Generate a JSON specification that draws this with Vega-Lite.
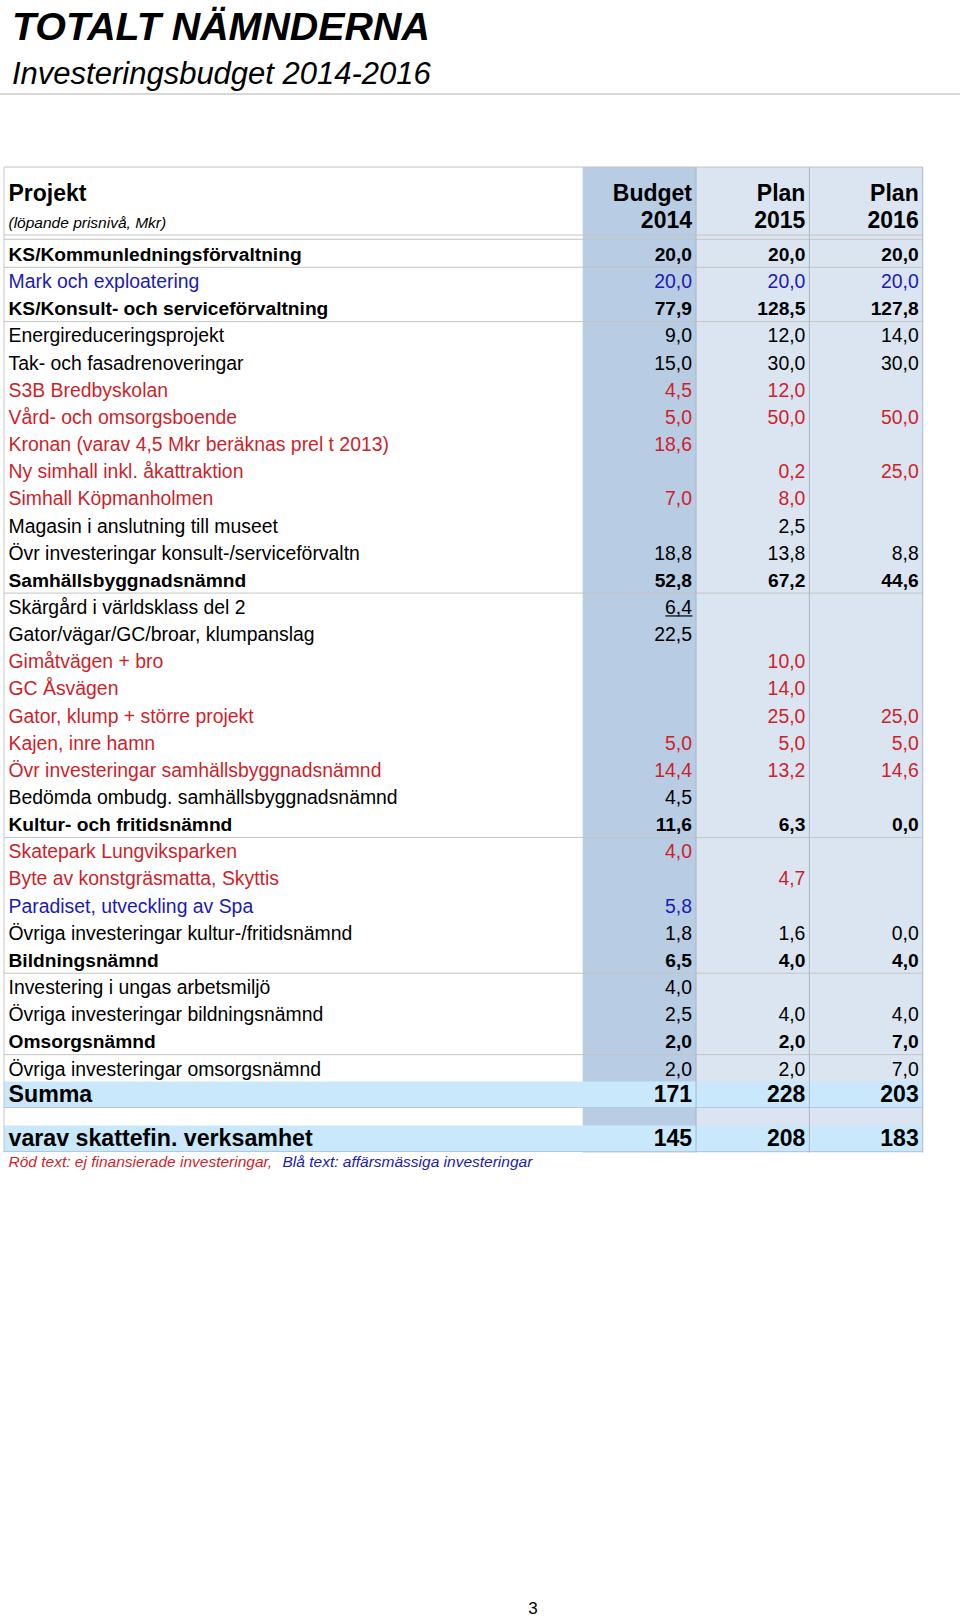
{
  "$schema": "https://vega.github.io/schema/vega-lite/v6.json",
  "width": 960,
  "height": 1617,
  "autosize": {"type": "none"},
  "padding": 0,
  "background": "white",
  "config": {
    "view": {"stroke": null},
    "locale": {"number": {"decimal": ",", "thousands": " ", "grouping": [3], "currency": ["", " kr"]}},
    "text": {"font": "Liberation Sans", "baseline": "alphabetic"}
  },
  "datasets": {
    "rader": [
      {"rad": -1, "projekt": "Projekt", "niva": "rubrik", "typ": "ordinarie"},
      {"rad": 0, "projekt": "(löpande prisnivå, Mkr)", "niva": "enhet", "typ": "ordinarie"},
      {"rad": 1, "projekt": "KS/Kommunledningsförvaltning", "niva": "nämnd", "typ": "ordinarie"},
      {"rad": 2, "projekt": "Mark och exploatering", "niva": "projekt", "typ": "affärsmässig"},
      {"rad": 3, "projekt": "KS/Konsult- och serviceförvaltning", "niva": "nämnd", "typ": "ordinarie"},
      {"rad": 4, "projekt": "Energireduceringsprojekt", "niva": "projekt", "typ": "ordinarie"},
      {"rad": 5, "projekt": "Tak- och fasadrenoveringar", "niva": "projekt", "typ": "ordinarie"},
      {"rad": 6, "projekt": "S3B Bredbyskolan", "niva": "projekt", "typ": "ej finansierad"},
      {"rad": 7, "projekt": "Vård- och omsorgsboende", "niva": "projekt", "typ": "ej finansierad"},
      {"rad": 8, "projekt": "Kronan (varav 4,5 Mkr beräknas prel t 2013)", "niva": "projekt", "typ": "ej finansierad"},
      {"rad": 9, "projekt": "Ny simhall inkl. åkattraktion", "niva": "projekt", "typ": "ej finansierad"},
      {"rad": 10, "projekt": "Simhall Köpmanholmen", "niva": "projekt", "typ": "ej finansierad"},
      {"rad": 11, "projekt": "Magasin i anslutning till museet", "niva": "projekt", "typ": "ordinarie"},
      {"rad": 12, "projekt": "Övr investeringar konsult-/serviceförvaltn", "niva": "projekt", "typ": "ordinarie"},
      {"rad": 13, "projekt": "Samhällsbyggnadsnämnd", "niva": "nämnd", "typ": "ordinarie"},
      {"rad": 14, "projekt": "Skärgård i världsklass del 2", "niva": "projekt", "typ": "ordinarie"},
      {"rad": 15, "projekt": "Gator/vägar/GC/broar, klumpanslag", "niva": "projekt", "typ": "ordinarie"},
      {"rad": 16, "projekt": "Gimåtvägen + bro", "niva": "projekt", "typ": "ej finansierad"},
      {"rad": 17, "projekt": "GC Åsvägen", "niva": "projekt", "typ": "ej finansierad"},
      {"rad": 18, "projekt": "Gator, klump + större projekt", "niva": "projekt", "typ": "ej finansierad"},
      {"rad": 19, "projekt": "Kajen, inre hamn", "niva": "projekt", "typ": "ej finansierad"},
      {"rad": 20, "projekt": "Övr investeringar samhällsbyggnadsnämnd", "niva": "projekt", "typ": "ej finansierad"},
      {"rad": 21, "projekt": "Bedömda ombudg. samhällsbyggnadsnämnd", "niva": "projekt", "typ": "ordinarie"},
      {"rad": 22, "projekt": "Kultur- och fritidsnämnd", "niva": "nämnd", "typ": "ordinarie"},
      {"rad": 23, "projekt": "Skatepark Lungviksparken", "niva": "projekt", "typ": "ej finansierad"},
      {"rad": 24, "projekt": "Byte av konstgräsmatta, Skyttis", "niva": "projekt", "typ": "ej finansierad"},
      {"rad": 25, "projekt": "Paradiset, utveckling av Spa", "niva": "projekt", "typ": "affärsmässig"},
      {"rad": 26, "projekt": "Övriga investeringar kultur-/fritidsnämnd", "niva": "projekt", "typ": "ordinarie"},
      {"rad": 27, "projekt": "Bildningsnämnd", "niva": "nämnd", "typ": "ordinarie"},
      {"rad": 28, "projekt": "Investering i ungas arbetsmiljö", "niva": "projekt", "typ": "ordinarie"},
      {"rad": 29, "projekt": "Övriga investeringar bildningsnämnd", "niva": "projekt", "typ": "ordinarie"},
      {"rad": 30, "projekt": "Omsorgsnämnd", "niva": "nämnd", "typ": "ordinarie"},
      {"rad": 31, "projekt": "Övriga investeringar omsorgsnämnd", "niva": "projekt", "typ": "ordinarie"},
      {"rad": 32, "projekt": "Summa", "niva": "summa", "typ": "ordinarie"},
      {"rad": 34, "projekt": "varav skattefin. verksamhet", "niva": "summa", "typ": "ordinarie"}
    ],
    "belopp": [
      {"rad": 1, "kolumn": "Budget 2014", "mkr": 20.0}, {"rad": 1, "kolumn": "Plan 2015", "mkr": 20.0}, {"rad": 1, "kolumn": "Plan 2016", "mkr": 20.0},
      {"rad": 2, "kolumn": "Budget 2014", "mkr": 20.0}, {"rad": 2, "kolumn": "Plan 2015", "mkr": 20.0}, {"rad": 2, "kolumn": "Plan 2016", "mkr": 20.0},
      {"rad": 3, "kolumn": "Budget 2014", "mkr": 77.9}, {"rad": 3, "kolumn": "Plan 2015", "mkr": 128.5}, {"rad": 3, "kolumn": "Plan 2016", "mkr": 127.8},
      {"rad": 4, "kolumn": "Budget 2014", "mkr": 9.0}, {"rad": 4, "kolumn": "Plan 2015", "mkr": 12.0}, {"rad": 4, "kolumn": "Plan 2016", "mkr": 14.0},
      {"rad": 5, "kolumn": "Budget 2014", "mkr": 15.0}, {"rad": 5, "kolumn": "Plan 2015", "mkr": 30.0}, {"rad": 5, "kolumn": "Plan 2016", "mkr": 30.0},
      {"rad": 6, "kolumn": "Budget 2014", "mkr": 4.5}, {"rad": 6, "kolumn": "Plan 2015", "mkr": 12.0},
      {"rad": 7, "kolumn": "Budget 2014", "mkr": 5.0}, {"rad": 7, "kolumn": "Plan 2015", "mkr": 50.0}, {"rad": 7, "kolumn": "Plan 2016", "mkr": 50.0},
      {"rad": 8, "kolumn": "Budget 2014", "mkr": 18.6},
      {"rad": 9, "kolumn": "Plan 2015", "mkr": 0.2}, {"rad": 9, "kolumn": "Plan 2016", "mkr": 25.0},
      {"rad": 10, "kolumn": "Budget 2014", "mkr": 7.0}, {"rad": 10, "kolumn": "Plan 2015", "mkr": 8.0},
      {"rad": 11, "kolumn": "Plan 2015", "mkr": 2.5},
      {"rad": 12, "kolumn": "Budget 2014", "mkr": 18.8}, {"rad": 12, "kolumn": "Plan 2015", "mkr": 13.8}, {"rad": 12, "kolumn": "Plan 2016", "mkr": 8.8},
      {"rad": 13, "kolumn": "Budget 2014", "mkr": 52.8}, {"rad": 13, "kolumn": "Plan 2015", "mkr": 67.2}, {"rad": 13, "kolumn": "Plan 2016", "mkr": 44.6},
      {"rad": 14, "kolumn": "Budget 2014", "mkr": 6.4},
      {"rad": 15, "kolumn": "Budget 2014", "mkr": 22.5},
      {"rad": 16, "kolumn": "Plan 2015", "mkr": 10.0},
      {"rad": 17, "kolumn": "Plan 2015", "mkr": 14.0},
      {"rad": 18, "kolumn": "Plan 2015", "mkr": 25.0}, {"rad": 18, "kolumn": "Plan 2016", "mkr": 25.0},
      {"rad": 19, "kolumn": "Budget 2014", "mkr": 5.0}, {"rad": 19, "kolumn": "Plan 2015", "mkr": 5.0}, {"rad": 19, "kolumn": "Plan 2016", "mkr": 5.0},
      {"rad": 20, "kolumn": "Budget 2014", "mkr": 14.4}, {"rad": 20, "kolumn": "Plan 2015", "mkr": 13.2}, {"rad": 20, "kolumn": "Plan 2016", "mkr": 14.6},
      {"rad": 21, "kolumn": "Budget 2014", "mkr": 4.5},
      {"rad": 22, "kolumn": "Budget 2014", "mkr": 11.6}, {"rad": 22, "kolumn": "Plan 2015", "mkr": 6.3}, {"rad": 22, "kolumn": "Plan 2016", "mkr": 0.0},
      {"rad": 23, "kolumn": "Budget 2014", "mkr": 4.0},
      {"rad": 24, "kolumn": "Plan 2015", "mkr": 4.7},
      {"rad": 25, "kolumn": "Budget 2014", "mkr": 5.8},
      {"rad": 26, "kolumn": "Budget 2014", "mkr": 1.8}, {"rad": 26, "kolumn": "Plan 2015", "mkr": 1.6}, {"rad": 26, "kolumn": "Plan 2016", "mkr": 0.0},
      {"rad": 27, "kolumn": "Budget 2014", "mkr": 6.5}, {"rad": 27, "kolumn": "Plan 2015", "mkr": 4.0}, {"rad": 27, "kolumn": "Plan 2016", "mkr": 4.0},
      {"rad": 28, "kolumn": "Budget 2014", "mkr": 4.0},
      {"rad": 29, "kolumn": "Budget 2014", "mkr": 2.5}, {"rad": 29, "kolumn": "Plan 2015", "mkr": 4.0}, {"rad": 29, "kolumn": "Plan 2016", "mkr": 4.0},
      {"rad": 30, "kolumn": "Budget 2014", "mkr": 2.0}, {"rad": 30, "kolumn": "Plan 2015", "mkr": 2.0}, {"rad": 30, "kolumn": "Plan 2016", "mkr": 7.0},
      {"rad": 31, "kolumn": "Budget 2014", "mkr": 2.0}, {"rad": 31, "kolumn": "Plan 2015", "mkr": 2.0}, {"rad": 31, "kolumn": "Plan 2016", "mkr": 7.0},
      {"rad": 32, "kolumn": "Budget 2014", "mkr": 171}, {"rad": 32, "kolumn": "Plan 2015", "mkr": 228}, {"rad": 32, "kolumn": "Plan 2016", "mkr": 203},
      {"rad": 34, "kolumn": "Budget 2014", "mkr": 145}, {"rad": 34, "kolumn": "Plan 2015", "mkr": 208}, {"rad": 34, "kolumn": "Plan 2016", "mkr": 183}
    ],
    "kolumner": [
      {"kolumn": "Budget 2014", "rubrik": "Budget", "ar": "2014"},
      {"kolumn": "Plan 2015", "rubrik": "Plan", "ar": "2015"},
      {"kolumn": "Plan 2016", "rubrik": "Plan", "ar": "2016"}
    ],
    "texter": [
      {"roll": "titel", "text": "TOTALT NÄMNDERNA", "typ": "ordinarie"},
      {"roll": "undertitel", "text": "Investeringsbudget 2014-2016", "typ": "ordinarie"},
      {"roll": "not1", "text": "Röd text: ej finansierade investeringar,", "typ": "ej finansierad"},
      {"roll": "not2", "text": "Blå text: affärsmässiga investeringar", "typ": "affärsmässig"},
      {"roll": "sida", "text": "3", "typ": "ordinarie"}
    ]
  },
  "resolve": {"scale": {"x": "independent"}},
  "layer": [
    {
      "data": {"name": "kolumner"},
      "mark": {"type": "rect", "yOffset": -34, "y2Offset": 7},
      "encoding": {
        "x": {"field": "kolumn", "type": "nominal", "axis": null, "scale": {"type": "band", "domain": ["Budget 2014", "Plan 2015", "Plan 2016"], "range": [582.7, 922.7], "paddingInner": 0, "paddingOuter": 0}},
        "y": {"datum": -1, "type": "quantitative", "axis": null, "scale": {"type": "linear", "domain": [-3, -2, -1, 0, 1, 31, 32, 34, 35, 36], "range": [40, 84, 201, 228, 261, 1075.5, 1101.5, 1145.5, 1166.5, 1613.5], "zero": false, "nice": false}},
        "y2": {"datum": 34},
        "fill": {"field": "kolumn", "type": "nominal", "legend": null, "scale": {"domain": ["Budget 2014", "Plan 2015", "Plan 2016"], "range": ["#b8cce4", "#dbe5f1", "#dbe5f1"]}}
      }
    },
    {
      "data": {"name": "rader"},
      "transform": [{"filter": "datum.niva == 'summa'"}],
      "mark": {"type": "rule", "strokeWidth": 26, "color": "#c9e8fb", "yOffset": -7},
      "encoding": {
        "x": {"datum": 0, "type": "quantitative", "axis": null, "scale": {"type": "linear", "domain": [0, 1], "range": [4, 922.7], "zero": false, "nice": false}},
        "x2": {"datum": 1},
        "y": {"field": "rad", "type": "quantitative", "axis": null}
      }
    },
    {
      "data": {"name": "rader"},
      "transform": [{"filter": "datum.niva == 'summa'"}],
      "mark": {"type": "rule", "strokeWidth": 1, "color": "#b4c8d8", "yOffset": 6},
      "encoding": {
        "x": {"datum": 0, "type": "quantitative", "axis": null, "scale": {"type": "linear", "domain": [0, 1], "range": [4, 922.7], "zero": false, "nice": false}},
        "x2": {"datum": 1},
        "y": {"field": "rad", "type": "quantitative", "axis": null}
      }
    },
    {
      "data": {"name": "rader"},
      "transform": [{"filter": "datum.niva == 'nämnd'"}],
      "mark": {"type": "rule", "strokeWidth": 1, "color": "#c4c4c4", "yOffset": 6.3},
      "encoding": {
        "x": {"datum": 0, "type": "quantitative", "axis": null, "scale": {"type": "linear", "domain": [0, 1], "range": [4, 922.7], "zero": false, "nice": false}},
        "x2": {"datum": 1},
        "y": {"field": "rad", "type": "quantitative", "axis": null}
      }
    },
    {
      "data": {"values": [{}]},
      "mark": {"type": "rule", "strokeWidth": 1, "color": "#c4c4c4", "yOffset": -34},
      "encoding": {
        "x": {"datum": 0, "type": "quantitative", "axis": null, "scale": {"type": "linear", "domain": [0, 1], "range": [4, 922.7], "zero": false, "nice": false}},
        "x2": {"datum": 1},
        "y": {"datum": -1, "type": "quantitative", "axis": null}
      }
    },
    {
      "data": {"values": [{}]},
      "mark": {"type": "rule", "strokeWidth": 1, "color": "#c4c4c4", "yOffset": 7},
      "encoding": {
        "x": {"datum": 0, "type": "quantitative", "axis": null, "scale": {"type": "linear", "domain": [0, 1], "range": [4, 922.7], "zero": false, "nice": false}},
        "x2": {"datum": 1},
        "y": {"datum": 0, "type": "quantitative", "axis": null}
      }
    },
    {
      "data": {"values": [{}]},
      "mark": {"type": "rule", "strokeWidth": 1, "color": "#c4c4c4", "yOffset": 11.3},
      "encoding": {
        "x": {"datum": 0, "type": "quantitative", "axis": null, "scale": {"type": "linear", "domain": [0, 1], "range": [4, 922.7], "zero": false, "nice": false}},
        "x2": {"datum": 1},
        "y": {"datum": 0, "type": "quantitative", "axis": null}
      }
    },
    {
      "data": {"values": [{}]},
      "mark": {"type": "rule", "strokeWidth": 1, "color": "#b0b0b0", "yOffset": 10},
      "encoding": {
        "y": {"datum": -2, "type": "quantitative", "axis": null}
      }
    },
    {
      "data": {"name": "kolumner"},
      "mark": {"type": "rule", "strokeWidth": 1, "color": "#a9b7c7", "yOffset": -34, "y2Offset": 7},
      "encoding": {
        "x": {"field": "kolumn", "type": "nominal", "bandPosition": 1, "axis": null, "scale": {"type": "band", "domain": ["Budget 2014", "Plan 2015", "Plan 2016"], "range": [582.7, 922.7], "paddingInner": 0, "paddingOuter": 0}},
        "y": {"datum": -1, "type": "quantitative", "axis": null},
        "y2": {"datum": 34}
      }
    },
    {
      "data": {"values": [{}]},
      "mark": {"type": "rule", "strokeWidth": 1, "color": "#c4c4c4", "yOffset": -34, "y2Offset": 7},
      "encoding": {
        "x": {"datum": 0, "type": "quantitative", "axis": null, "scale": {"type": "linear", "domain": [0, 1], "range": [4, 922.7], "zero": false, "nice": false}},
        "y": {"datum": -1, "type": "quantitative", "axis": null},
        "y2": {"datum": 34}
      }
    },
    {
      "data": {"name": "kolumner"},
      "mark": {"type": "text", "align": "right", "dx": -4, "fontSize": 23, "fontWeight": "bold", "color": "#000000"},
      "encoding": {
        "x": {"field": "kolumn", "type": "nominal", "bandPosition": 1, "axis": null, "scale": {"type": "band", "domain": ["Budget 2014", "Plan 2015", "Plan 2016"], "range": [582.7, 922.7], "paddingInner": 0, "paddingOuter": 0}},
        "y": {"datum": -1, "type": "quantitative", "axis": null},
        "text": {"field": "rubrik", "type": "nominal"}
      }
    },
    {
      "data": {"name": "kolumner"},
      "mark": {"type": "text", "align": "right", "dx": -4, "fontSize": 23, "fontWeight": "bold", "color": "#000000"},
      "encoding": {
        "x": {"field": "kolumn", "type": "nominal", "bandPosition": 1, "axis": null, "scale": {"type": "band", "domain": ["Budget 2014", "Plan 2015", "Plan 2016"], "range": [582.7, 922.7], "paddingInner": 0, "paddingOuter": 0}},
        "y": {"datum": 0, "type": "quantitative", "axis": null},
        "text": {"field": "ar", "type": "nominal"}
      }
    },
    {
      "data": {"name": "rader"},
      "transform": [{"filter": "datum.niva == 'rubrik'"}],
      "mark": {"type": "text", "align": "left", "dx": 4.5, "fontSize": 23, "fontWeight": "bold", "color": "#000000"},
      "encoding": {
        "x": {"datum": 0, "type": "quantitative", "axis": null, "scale": {"type": "linear", "domain": [0, 1], "range": [4, 922.7], "zero": false, "nice": false}},
        "y": {"field": "rad", "type": "quantitative", "axis": null},
        "text": {"field": "projekt", "type": "nominal"}
      }
    },
    {
      "data": {"name": "rader"},
      "transform": [{"filter": "datum.niva == 'enhet'"}],
      "mark": {"type": "text", "align": "left", "dx": 4.5, "fontSize": 15.5, "fontStyle": "italic", "color": "#000000"},
      "encoding": {
        "x": {"datum": 0, "type": "quantitative", "axis": null, "scale": {"type": "linear", "domain": [0, 1], "range": [4, 922.7], "zero": false, "nice": false}},
        "y": {"field": "rad", "type": "quantitative", "axis": null},
        "text": {"field": "projekt", "type": "nominal"}
      }
    },
    {
      "data": {"name": "rader"},
      "transform": [{"filter": "datum.niva == 'projekt'"}],
      "mark": {"type": "text", "align": "left", "dx": 4.5, "fontSize": 19.4},
      "encoding": {
        "x": {"datum": 0, "type": "quantitative", "axis": null, "scale": {"type": "linear", "domain": [0, 1], "range": [4, 922.7], "zero": false, "nice": false}},
        "y": {"field": "rad", "type": "quantitative", "axis": null},
        "text": {"field": "projekt", "type": "nominal"},
        "color": {"field": "typ", "type": "nominal", "legend": null, "scale": {"domain": ["ordinarie", "ej finansierad", "affärsmässig"], "range": ["#000000", "#cf1f2b", "#1b1bb3"]}}
      }
    },
    {
      "data": {"name": "rader"},
      "transform": [{"filter": "datum.niva == 'nämnd'"}],
      "mark": {"type": "text", "align": "left", "dx": 4.5, "fontSize": 19.2, "fontWeight": "bold", "color": "#000000"},
      "encoding": {
        "x": {"datum": 0, "type": "quantitative", "axis": null, "scale": {"type": "linear", "domain": [0, 1], "range": [4, 922.7], "zero": false, "nice": false}},
        "y": {"field": "rad", "type": "quantitative", "axis": null},
        "text": {"field": "projekt", "type": "nominal"}
      }
    },
    {
      "data": {"name": "rader"},
      "transform": [{"filter": "datum.niva == 'summa'"}],
      "mark": {"type": "text", "align": "left", "dx": 4.5, "fontSize": 23.2, "fontWeight": "bold", "color": "#000000"},
      "encoding": {
        "x": {"datum": 0, "type": "quantitative", "axis": null, "scale": {"type": "linear", "domain": [0, 1], "range": [4, 922.7], "zero": false, "nice": false}},
        "y": {"field": "rad", "type": "quantitative", "axis": null},
        "text": {"field": "projekt", "type": "nominal"}
      }
    },
    {
      "data": {"name": "belopp"},
      "transform": [
        {"lookup": "rad", "from": {"data": {"name": "rader"}, "key": "rad", "fields": ["niva", "typ"]}},
        {"filter": "datum.niva == 'projekt'"}
      ],
      "mark": {"type": "text", "align": "right", "dx": -4, "fontSize": 19.4},
      "encoding": {
        "x": {"field": "kolumn", "type": "nominal", "bandPosition": 1, "axis": null, "scale": {"type": "band", "domain": ["Budget 2014", "Plan 2015", "Plan 2016"], "range": [582.7, 922.7], "paddingInner": 0, "paddingOuter": 0}},
        "y": {"field": "rad", "type": "quantitative", "axis": null},
        "text": {"field": "mkr", "type": "quantitative", "format": ".1f"},
        "color": {"field": "typ", "type": "nominal", "legend": null}
      }
    },
    {
      "data": {"name": "belopp"},
      "transform": [
        {"lookup": "rad", "from": {"data": {"name": "rader"}, "key": "rad", "fields": ["niva", "typ"]}},
        {"filter": "datum.niva == 'nämnd'"}
      ],
      "mark": {"type": "text", "align": "right", "dx": -4, "fontSize": 19.2, "fontWeight": "bold", "color": "#000000"},
      "encoding": {
        "x": {"field": "kolumn", "type": "nominal", "bandPosition": 1, "axis": null, "scale": {"type": "band", "domain": ["Budget 2014", "Plan 2015", "Plan 2016"], "range": [582.7, 922.7], "paddingInner": 0, "paddingOuter": 0}},
        "y": {"field": "rad", "type": "quantitative", "axis": null},
        "text": {"field": "mkr", "type": "quantitative", "format": ".1f"}
      }
    },
    {
      "data": {"name": "belopp"},
      "transform": [
        {"lookup": "rad", "from": {"data": {"name": "rader"}, "key": "rad", "fields": ["niva", "typ"]}},
        {"filter": "datum.niva == 'summa'"}
      ],
      "mark": {"type": "text", "align": "right", "dx": -4, "fontSize": 23, "fontWeight": "bold", "color": "#000000"},
      "encoding": {
        "x": {"field": "kolumn", "type": "nominal", "bandPosition": 1, "axis": null, "scale": {"type": "band", "domain": ["Budget 2014", "Plan 2015", "Plan 2016"], "range": [582.7, 922.7], "paddingInner": 0, "paddingOuter": 0}},
        "y": {"field": "rad", "type": "quantitative", "axis": null},
        "text": {"field": "mkr", "type": "quantitative", "format": ".0f"}
      }
    },
    {
      "data": {"name": "belopp"},
      "transform": [{"filter": "datum.rad == 14 && datum.kolumn == 'Budget 2014'"}],
      "mark": {"type": "tick", "orient": "horizontal", "size": 27, "thickness": 1.2, "color": "#000000", "opacity": 1, "xOffset": 39.5, "yOffset": 2},
      "encoding": {
        "x": {"field": "kolumn", "type": "nominal", "axis": null, "scale": {"type": "band", "domain": ["Budget 2014", "Plan 2015", "Plan 2016"], "range": [582.7, 922.7], "paddingInner": 0, "paddingOuter": 0}},
        "y": {"field": "rad", "type": "quantitative", "axis": null}
      }
    },
    {
      "data": {"name": "texter"},
      "transform": [{"filter": "datum.roll == 'titel'"}],
      "mark": {"type": "text", "align": "left", "dx": 8, "fontSize": 39.4, "fontWeight": "bold", "fontStyle": "italic", "color": "#000000"},
      "encoding": {
        "x": {"datum": 0, "type": "quantitative", "axis": null, "scale": {"type": "linear", "domain": [0, 1], "range": [4, 922.7], "zero": false, "nice": false}},
        "y": {"datum": -3, "type": "quantitative", "axis": null},
        "text": {"field": "text", "type": "nominal"}
      }
    },
    {
      "data": {"name": "texter"},
      "transform": [{"filter": "datum.roll == 'undertitel'"}],
      "mark": {"type": "text", "align": "left", "dx": 8, "fontSize": 31, "fontStyle": "italic", "color": "#000000"},
      "encoding": {
        "x": {"datum": 0, "type": "quantitative", "axis": null, "scale": {"type": "linear", "domain": [0, 1], "range": [4, 922.7], "zero": false, "nice": false}},
        "y": {"datum": -2, "type": "quantitative", "axis": null},
        "text": {"field": "text", "type": "nominal"}
      }
    },
    {
      "data": {"name": "texter"},
      "transform": [{"filter": "datum.roll == 'not1'"}],
      "mark": {"type": "text", "align": "left", "dx": 4.5, "fontSize": 15.5, "fontStyle": "italic"},
      "encoding": {
        "x": {"datum": 0, "type": "quantitative", "axis": null, "scale": {"type": "linear", "domain": [0, 1], "range": [4, 922.7], "zero": false, "nice": false}},
        "y": {"datum": 35, "type": "quantitative", "axis": null},
        "text": {"field": "text", "type": "nominal"},
        "color": {"field": "typ", "type": "nominal", "legend": null}
      }
    },
    {
      "data": {"name": "texter"},
      "transform": [{"filter": "datum.roll == 'not2'"}],
      "mark": {"type": "text", "align": "left", "dx": 278.5, "fontSize": 15.5, "fontStyle": "italic"},
      "encoding": {
        "x": {"datum": 0, "type": "quantitative", "axis": null, "scale": {"type": "linear", "domain": [0, 1], "range": [4, 922.7], "zero": false, "nice": false}},
        "y": {"datum": 35, "type": "quantitative", "axis": null},
        "text": {"field": "text", "type": "nominal"},
        "color": {"field": "typ", "type": "nominal", "legend": null}
      }
    },
    {
      "data": {"name": "texter"},
      "transform": [{"filter": "datum.roll == 'sida'"}],
      "mark": {"type": "text", "align": "center", "dx": 529, "fontSize": 17, "color": "#000000"},
      "encoding": {
        "x": {"datum": 0, "type": "quantitative", "axis": null, "scale": {"type": "linear", "domain": [0, 1], "range": [4, 922.7], "zero": false, "nice": false}},
        "y": {"datum": 36, "type": "quantitative", "axis": null},
        "text": {"field": "text", "type": "nominal"}
      }
    }
  ]
}
